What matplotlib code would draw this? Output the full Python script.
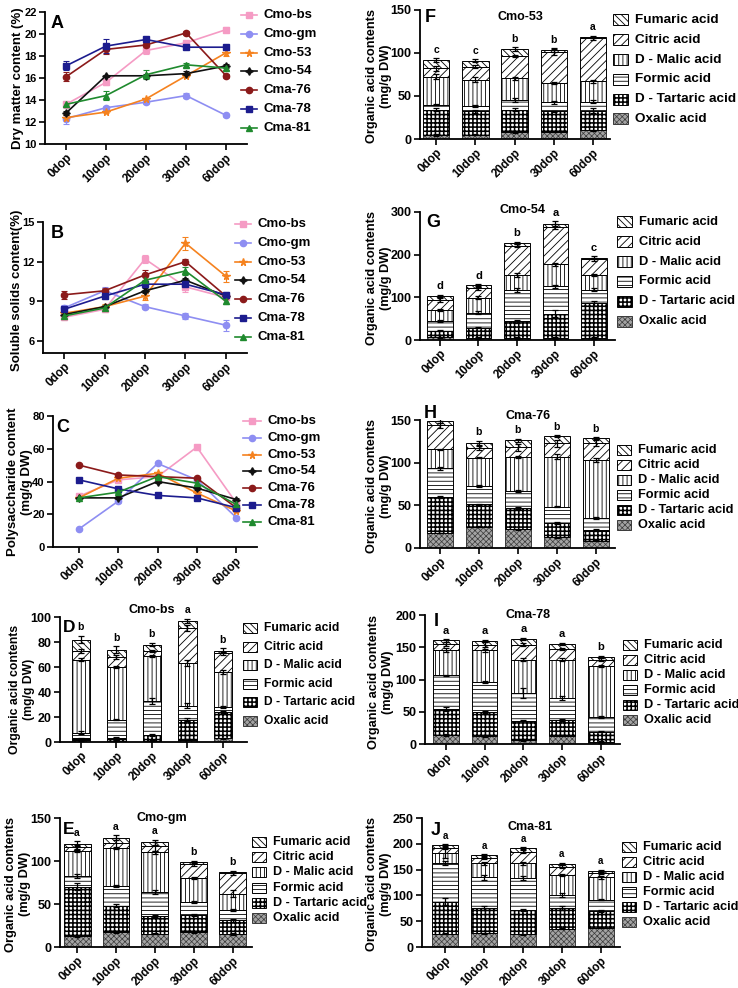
import matplotlib
matplotlib.use('Agg')
import matplotlib.pyplot as plt
from matplotlib.patches import Rectangle
from matplotlib.lines import Line2D
import numpy as np

plt.rcParams['font.family'] = ['Liberation Sans', 'DejaVu Sans']
plt.rcParams['font.weight'] = 'bold'
plt.rcParams['hatch.linewidth'] = 0.6

# ---------------- data ----------------
times = ['0dop', '10dop', '20dop', '30dop', '60dop']
varieties = ['Cmo-bs', 'Cmo-gm', 'Cmo-53', 'Cmo-54', 'Cma-76', 'Cma-78', 'Cma-81']
acids = ['Oxalic acid', 'D - Tartaric acid', 'Formic acid', 'D - Malic acid', 'Citric acid', 'Fumaric acid']

# A: dry matter content (%)
dry_matter = [
    [13.6, 15.6, 18.5, 19.2, 20.4],
    [12.3, 13.3, 13.8, 14.4, 12.6],
    [12.4, 12.9, 14.1, 16.2, 18.3],
    [12.8, 16.2, 16.2, 16.4, 17.1],
    [16.1, 18.6, 19.0, 20.1, 16.2],
    [17.1, 18.9, 19.5, 18.8, 18.8],
    [13.6, 14.4, 16.3, 17.2, 16.9],
]
dry_matter_err = [
    [0.3, 0.2, 0.3, 0.2, 0.2],
    [0.5, 0.2, 0.2, 0.2, 0.1],
    [0.2, 0.1, 0.1, 0.1, 0.3],
    [0.2, 0.1, 0.2, 0.2, 0.2],
    [0.4, 0.4, 0.2, 0.2, 0.2],
    [0.4, 0.6, 0.2, 0.2, 0.1],
    [0.2, 0.4, 0.4, 0.2, 0.2],
]
# B: soluble solids content (%)
soluble_solids = [
    [7.8, 8.4, 12.2, 10.1, 9.3],
    [8.5, 9.8, 8.6, 7.9, 7.2],
    [8.1, 8.6, 9.4, 13.4, 10.9],
    [8.0, 8.6, 9.8, 10.6, 9.4],
    [9.5, 9.8, 11.0, 12.0, 9.4],
    [8.4, 9.4, 10.3, 10.3, 9.5],
    [7.9, 8.5, 10.6, 11.3, 9.0],
]
soluble_solids_err = [
    [0.2, 0.2, 0.3, 0.4, 0.2],
    [0.2, 0.3, 0.2, 0.2, 0.4],
    [0.2, 0.2, 0.3, 0.5, 0.4],
    [0.1, 0.1, 0.2, 0.2, 0.1],
    [0.3, 0.2, 0.4, 0.2, 0.2],
    [0.2, 0.2, 0.2, 0.2, 0.2],
    [0.2, 0.2, 0.3, 0.3, 0.2],
]
# C: polysaccharide content (mg/g DW)
polysaccharide = [
    [31, 41, 43, 61, 27],
    [11, 28, 51, 41, 18],
    [30, 42, 45, 33, 22],
    [30, 30, 40, 36, 29],
    [50, 44, 43, 42, 24],
    [41, 35.5, 31.5, 30, 24],
    [30, 33.5, 43, 39, 26],
]
polysaccharide_err = [
    [1.0, 1.0, 1.0, 1.0, 1.0],
    [0.8, 1.0, 1.0, 1.0, 0.8],
    [0.8, 1.0, 1.0, 1.0, 0.8],
    [0.8, 1.0, 1.0, 1.0, 1.0],
    [0.8, 0.8, 0.8, 0.8, 0.8],
    [0.8, 0.8, 0.8, 0.8, 0.8],
    [0.8, 0.8, 1.0, 1.0, 0.8],
]

# Organic acids (mg/g DW), order: Oxalic, D-Tartaric, Formic, D-Malic, Citric, Fumaric
cmo_bs_acids = [
    [1.5, 1.0, 1.0, 2.0, 3.0],
    [1.5, 2.5, 5.0, 16.0, 21.0],
    [4.5, 14.5, 27.0, 11.0, 4.0],
    [58.5, 42.0, 36.0, 34.0, 28.0],
    [7.0, 8.0, 4.0, 28.0, 15.0],
    [9.0, 6.0, 5.0, 6.0, 2.0],
]
cmo_bs_err = [
    [0.3, 0.3, 0.3, 0.5, 0.5], [0.5, 0.5, 0.8, 1.0, 0.8], [1.0, 0.5, 2.5, 2.0, 1.0],
    [1.5, 1.0, 1.0, 2.5, 1.5], [1.5, 1.5, 1.0, 2.5, 1.0], [3.0, 2.5, 1.5, 1.5, 2.0],
]
cmo_bs_sig = ['b', 'b', 'b', 'a', 'b']

cmo_gm_acids = [
    [12.5, 17.5, 15.5, 17.5, 15.0],
    [57.5, 30.5, 20.5, 19.5, 16.0],
    [12.5, 23.0, 28.0, 15.5, 12.0],
    [29.5, 44.0, 46.0, 27.5, 19.0],
    [4.0, 6.0, 7.0, 16.5, 23.5],
    [4.0, 6.0, 5.0, 2.5, 1.5],
]
cmo_gm_err = [
    [1, 0.8, 0.8, 1, 1], [4, 2, 1, 1.5, 2], [2, 1, 2, 1, 1.5],
    [1.5, 1.5, 1.5, 1, 4], [3, 6, 5, 2, 2], [3, 3, 3, 1.5, 1.5],
]
cmo_gm_sig = ['a', 'a', 'a', 'b', 'b']

cmo_53_acids = [
    [5.0, 5.0, 7.7, 8.5, 10.0],
    [29.0, 27.0, 26.3, 23.5, 23.0],
    [6.0, 6.6, 11.5, 10.5, 10.6],
    [32.5, 30.1, 25.1, 22.5, 23.4],
    [9.5, 15.3, 25.9, 36.5, 50.0],
    [10.0, 7.0, 8.1, 1.5, 2.0],
]
cmo_53_err = [
    [1, 0.5, 0.5, 0.5, 0.5], [2, 1.5, 1.5, 1, 3], [1, 1.5, 2.5, 1.5, 1.5],
    [3, 3, 2, 1, 2], [3, 2, 1, 4, 2], [2, 2, 2, 2, 1],
]
cmo_53_sig = ['c', 'c', 'b', 'b', 'a']

cmo_54_acids = [
    [8.0, 5.0, 4.0, 4.0, 4.0],
    [14.0, 24.0, 40.0, 58.0, 82.0],
    [23.0, 35.0, 73.0, 64.0, 32.0],
    [25.0, 35.0, 35.0, 51.0, 34.0],
    [23.5, 23.0, 69.0, 89.0, 37.0],
    [9.5, 6.0, 6.0, 7.0, 4.0],
]
cmo_54_err = [
    [3, 2, 2, 2, 2], [2, 2, 4, 8, 6], [3, 3, 5, 3, 3],
    [3, 3, 5, 3, 3], [5, 4, 3, 6, 3], [3, 3, 3, 5, 3],
]
cmo_54_sig = ['d', 'd', 'b', 'a', 'c']

cma_76_acids = [
    [17.5, 25.0, 22.0, 12.5, 8.5],
    [42.0, 26.0, 25.0, 16.5, 12.9],
    [33.9, 22.0, 20.0, 19.6, 13.6],
    [22.2, 33.0, 40.0, 58.4, 68.0],
    [28.4, 11.5, 11.0, 15.6, 20.0],
    [4.6, 5.1, 8.0, 8.4, 6.0],
]
cma_76_err = [
    [0.5, 0.5, 0.5, 0.5, 0.5], [1, 1, 1, 1, 1], [2, 1, 1, 0.5, 1],
    [1, 1, 1, 3, 2], [3, 3, 4, 4, 3], [2, 3, 2, 1, 1],
]
cma_76_sig = ['a', 'b', 'b', 'b', 'b']

cma_78_acids = [
    [14.0, 12.0, 6.0, 13.0, 3.0],
    [39.6, 37.5, 30.0, 24.0, 16.0],
    [53.0, 46.9, 43.0, 34.0, 23.0],
    [39.4, 48.6, 52.0, 60.0, 79.0],
    [9.0, 9.0, 23.0, 16.0, 10.0],
    [5.7, 6.0, 9.0, 8.0, 4.0],
]
cma_78_err = [
    [1, 1, 1, 1, 1], [3, 2, 1, 2, 1], [1, 2, 8, 3, 1],
    [3, 2, 3, 2, 2], [3, 4, 2, 2, 2], [2, 2, 2, 2, 2],
]
cma_78_sig = ['a', 'a', 'a', 'a', 'b']

cma_81_acids = [
    [26.0, 27.0, 25.0, 35.0, 37.0],
    [62.0, 48.5, 47.0, 40.5, 32.0],
    [74.6, 60.0, 61.5, 25.5, 22.6],
    [19.4, 27.1, 29.1, 39.0, 43.4],
    [9.6, 9.4, 22.4, 16.0, 8.0],
    [5.4, 6.0, 6.6, 5.0, 5.0],
]
cma_81_err = [
    [1, 1, 1, 1, 1], [6, 3, 2, 3, 2], [4, 5, 4, 4, 1],
    [10, 3, 3, 2, 3], [2, 2, 3, 3, 2], [2, 2, 2, 2, 2],
]
cma_81_sig = ['a', 'a', 'a', 'a', 'a']

# ---------------- styles ----------------
line_colors = ['#F59BC4', '#8E8EF2', '#F5821F', '#111111', '#8B1A1A', '#1C1C8E', '#1F8A2E']
line_markers = ['s', 'o', '*', (4, 1, 0), 'o', 's', '^']
line_msize = [4.5, 4.5, 5.5, 5.5, 4.5, 4.5, 4.5]

acid_face = ['#A3A3A3', 'white', 'white', 'white', 'white', 'white']
acid_edge = ['#3a3a3a', 'black', 'black', 'black', 'black', 'black']
acid_hatch = ['xxxxxx', '++++', '----', '||||', '////', '\\\\\\\\\\']
acid_hlw = [0.5, 1.15, 0.6, 0.6, 0.6, 0.6]

W, H = 738, 988
fig = plt.figure(figsize=(W / 100, H / 100), dpi=100)


def add_ax(l, t, r, b):
    return fig.add_axes([l / W, 1 - b / H, (r - l) / W, (b - t) / H])


def style(ax, xlim, ylim, yticks, ysize):
    for s in ['top', 'right']:
        ax.spines[s].set_visible(False)
    for s in ['left', 'bottom']:
        ax.spines[s].set_linewidth(1.3)
    ax.set_xlim(*xlim)
    ax.set_ylim(*ylim)
    ax.set_yticks(yticks)
    ax.set_xticks(range(len(times)))
    ax.set_xticklabels(times, rotation=45, ha='right', va='top', rotation_mode='anchor',
                       fontsize=8.5, fontweight='bold')
    ax.tick_params(axis='both', width=1.2, length=4, pad=2)
    ax.tick_params(axis='y', labelsize=ysize)
    ax.tick_params(axis='x', pad=1.5)
    for t in ax.get_yticklabels():
        t.set_fontweight('bold')


def ftext(x, y, s, **kw):
    fig.text(x / W, 1 - y / H, s, **kw)


def line_panel(ax, data, errs):
    x = np.arange(len(times))
    for i in range(len(varieties)):
        ax.errorbar(x, data[i], yerr=errs[i], color=line_colors[i], marker=line_markers[i],
                    ms=line_msize[i], lw=1.2, capsize=2, elinewidth=0.8, capthick=0.8,
                    mec=line_colors[i], mfc=line_colors[i])


def line_legend(x0, y0, dy, fs, hl=18, gap=6):
    for i, v in enumerate(varieties):
        yc = 1 - (y0 + i * dy) / H
        fig.add_artist(Line2D([x0 / W, (x0 + hl) / W], [yc, yc], transform=fig.transFigure,
                              color=line_colors[i], lw=1.2))
        fig.add_artist(Line2D([(x0 + hl / 2) / W], [yc], transform=fig.transFigure,
                              color=line_colors[i], marker=line_markers[i], ms=line_msize[i],
                              ls='none'))
        fig.text((x0 + hl + gap) / W, yc, v, fontsize=fs, fontweight='bold', va='center',
                 ha='left')


def set_hlw(p, lw):
    try:
        p.set_hatch_linewidth(lw)
    except AttributeError:
        pass


def bar_panel(ax, segs, errs, width, sig, sigsize=7.5):
    x = np.arange(len(times))
    bottom = np.zeros(len(times))
    for k in range(len(acids)):
        vals = np.array(segs[k], dtype=float)
        plt.rcParams['hatch.linewidth'] = acid_hlw[k]
        bars = ax.bar(x, vals, width, bottom=bottom, facecolor=acid_face[k],
                      edgecolor=acid_edge[k], hatch=acid_hatch[k], lw=0.7, zorder=2)
        for b in bars:
            set_hlw(b, acid_hlw[k])
        top = bottom + vals
        ax.errorbar(x, top, yerr=errs[k], fmt='none', ecolor='black', elinewidth=0.9,
                    capsize=2.5, capthick=0.9, zorder=3)
        bottom = top
    for i in range(len(times)):
        ax.annotate(sig[i], (x[i], bottom[i] + errs[-1][i]), xytext=(0, 2.5),
                    textcoords='offset points', ha='center', va='bottom',
                    fontsize=sigsize, fontweight='bold')


def bar_legend(xp, y0, dy, fs, pw=14, ph=10, gap=7):
    order = [5, 4, 3, 2, 1, 0]
    for j, k in enumerate(order):
        yc = y0 + j * dy
        plt.rcParams['hatch.linewidth'] = acid_hlw[k]
        r = Rectangle((xp / W, 1 - (yc + ph / 2) / H), pw / W, ph / H,
                      transform=fig.transFigure, facecolor=acid_face[k],
                      edgecolor=acid_edge[k], hatch=acid_hatch[k], lw=0.7)
        set_hlw(r, acid_hlw[k])
        fig.add_artist(r)
        fig.text((xp + pw + gap) / W, 1 - yc / H, acids[k], fontsize=fs, fontweight='bold',
                 va='center', ha='left')


YL = 'Organic acid contents\n(mg/g DW)'

# ---------------- panel A ----------------
axA = add_ax(45, 12, 247, 144)
line_panel(axA, dry_matter, dry_matter_err)
style(axA, (-0.52, 4.52), (10, 22), [10, 12, 14, 16, 18, 20, 22], 8)
line_legend(241, 15, 18.8, 9.5, hl=16)
ftext(57, 23, 'A', fontsize=13, fontweight='bold', ha='center', va='center')
ftext(18, 78, 'Dry matter content (%)', fontsize=9.5, fontweight='bold', rotation=90,
      ha='center', va='center')

# ---------------- panel B ----------------
axB = add_ax(43, 222, 247, 353)
line_panel(axB, soluble_solids, soluble_solids_err)
style(axB, (-0.52, 4.52), (5.1, 15), [6, 9, 12, 15], 8)
line_legend(235, 224, 18.8, 9.5, hl=16)
ftext(57, 233, 'B', fontsize=13, fontweight='bold', ha='center', va='center')
ftext(17, 290, 'Soluble solids content(%)', fontsize=9.5, fontweight='bold', rotation=90,
      ha='center', va='center')

# ---------------- panel C ----------------
axC = add_ax(53, 416, 257, 547)
line_panel(axC, polysaccharide, polysaccharide_err)
style(axC, (-0.66, 4.53), (0, 80), [0, 20, 40, 60, 80], 8)
line_legend(243, 421, 16.8, 9.5, hl=18)
ftext(63, 428, 'C', fontsize=13, fontweight='bold', ha='center', va='center')
ftext(20, 482, 'Polysaccharide content\n(mg/g DW)', fontsize=9.5, fontweight='bold',
      rotation=90, ha='center', va='center', linespacing=1.15)

# ---------------- panel D ----------------
axD = add_ax(60, 617, 247, 742)
bar_panel(axD, cmo_bs_acids, cmo_bs_err, 0.52, cmo_bs_sig)
style(axD, (-0.59, 4.68), (0, 100), [0, 20, 40, 60, 80, 100], 9)
bar_legend(243, 628, 18.6, 8.7)
ftext(69, 627, 'D', fontsize=12.5, fontweight='bold', ha='center', va='center')
ftext(152, 610, 'Cmo-bs', fontsize=9, fontweight='bold', ha='center', va='center')
ftext(22, 689, YL, fontsize=8.8, fontweight='bold',
      rotation=90, ha='center', va='center', linespacing=1.15)

# ---------------- panel E ----------------
axE = add_ax(60, 818, 252, 947)
bar_panel(axE, cmo_gm_acids, cmo_gm_err, 0.69, cmo_gm_sig)
style(axE, (-0.44, 4.5), (0, 150), [0, 50, 100, 150], 9)
bar_legend(252, 842, 15.2, 9)
ftext(69, 829, 'E', fontsize=12.5, fontweight='bold', ha='center', va='center')
ftext(162, 818, 'Cmo-gm', fontsize=9, fontweight='bold', ha='center', va='center')
ftext(18, 884, YL, fontsize=9.3, fontweight='bold',
      rotation=90, ha='center', va='center', linespacing=1.15)

# ---------------- panel F ----------------
axF = add_ax(420, 10, 610, 139)
bar_panel(axF, cmo_53_acids, cmo_53_err, 0.68, cmo_53_sig)
style(axF, (-0.41, 4.43), (0, 150), [0, 50, 100, 150], 9)
bar_legend(613, 20, 19.8, 9.7, pw=15, ph=11)
ftext(430, 18, 'F', fontsize=13, fontweight='bold', ha='center', va='center')
ftext(520, 17, 'Cmo-53', fontsize=9, fontweight='bold', ha='center', va='center')
ftext(379, 76, YL, fontsize=9.2, fontweight='bold',
      rotation=90, ha='center', va='center', linespacing=1.15)

# ---------------- panel G ----------------
axG = add_ax(420, 212, 615, 340)
bar_panel(axG, cmo_54_acids, cmo_54_err, 0.66, cmo_54_sig, sigsize=8)
style(axG, (-0.52, 4.55), (0, 300), [0, 100, 200, 300], 9)
bar_legend(617, 222, 19.8, 9.3, pw=15, ph=11)
ftext(433, 222, 'G', fontsize=13, fontweight='bold', ha='center', va='center')
ftext(522, 210, 'Cmo-54', fontsize=9, fontweight='bold', ha='center', va='center')
ftext(379, 278, YL, fontsize=9.2, fontweight='bold',
      rotation=90, ha='center', va='center', linespacing=1.15)

# ---------------- panel H ----------------
axH = add_ax(420, 420, 615, 548)
bar_panel(axH, cma_76_acids, cma_76_err, 0.67, cma_76_sig)
style(axH, (-0.51, 4.49), (0, 150), [0, 50, 100, 150], 9)
bar_legend(617, 450, 14.9, 9.2)
ftext(430, 413, 'H', fontsize=13, fontweight='bold', ha='center', va='center')
ftext(528, 416, 'Cma-76', fontsize=9, fontweight='bold', ha='center', va='center')
ftext(379, 486, YL, fontsize=9.2, fontweight='bold',
      rotation=90, ha='center', va='center', linespacing=1.15)

# ---------------- panel I ----------------
axI = add_ax(425, 615, 620, 744)
bar_panel(axI, cma_78_acids, cma_78_err, 0.66, cma_78_sig, sigsize=8)
style(axI, (-0.54, 4.49), (0, 200), [0, 50, 100, 150, 200], 9)
bar_legend(623, 645, 14.9, 9.2)
ftext(436, 622, 'I', fontsize=13, fontweight='bold', ha='center', va='center')
ftext(528, 615, 'Cma-78', fontsize=9, fontweight='bold', ha='center', va='center')
ftext(381, 682, YL, fontsize=9.2, fontweight='bold',
      rotation=90, ha='center', va='center', linespacing=1.15)

# ---------------- panel J ----------------
axJ = add_ax(422, 818, 620, 947)
bar_panel(axJ, cma_81_acids, cma_81_err, 0.66, cma_81_sig, sigsize=7)
style(axJ, (-0.59, 4.49), (0, 250), [0, 50, 100, 150, 200, 250], 9)
bar_legend(622, 847, 15.0, 9.2)
ftext(436, 830, 'J', fontsize=13, fontweight='bold', ha='center', va='center')
ftext(530, 827, 'Cma-81', fontsize=9, fontweight='bold', ha='center', va='center')
ftext(379, 884, YL, fontsize=9.2, fontweight='bold',
      rotation=90, ha='center', va='center', linespacing=1.15)

fig.savefig('out.png', dpi=100)
